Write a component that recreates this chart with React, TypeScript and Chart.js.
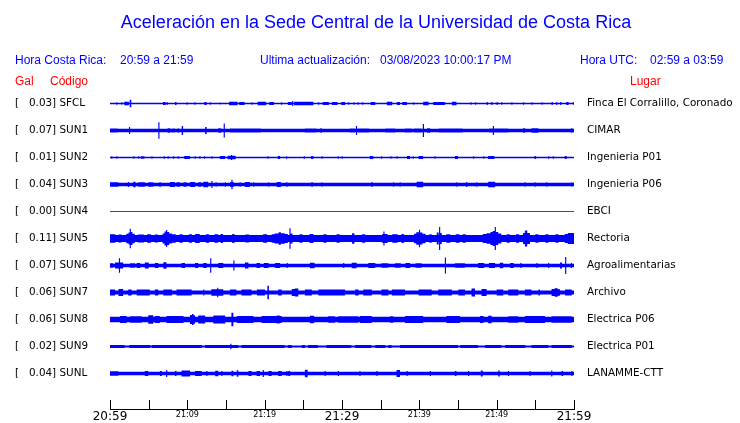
import React, { useEffect, useRef } from 'react';
import { Chart, registerables } from 'chart.js';

Chart.register(...registerables);

// ---------- text ----------
const TITLE = 'Aceleración en la Sede Central de la Universidad de Costa Rica';
const HEADER_LOCAL = ['Hora Costa Rica:', '20:59 a 21:59'];
const HEADER_UPDATE = ['Ultima actualización:', '03/08/2023 10:00:17 PM'];
const HEADER_UTC = ['Hora UTC:', '02:59 a 03:59'];
const COLUMN_HEADS = ['Gal', 'Código', 'Lugar'];

// ---------- data ----------
const CODES = ['SFCL', 'SUN1', 'SUN2', 'SUN3', 'SUN4', 'SUN5', 'SUN6', 'SUN7', 'SUN8', 'SUN9', 'SUNL'];
const GAL = [0.03, 0.07, 0.01, 0.04, 0.0, 0.11, 0.07, 0.06, 0.06, 0.02, 0.04];
const PLACES = [
  'Finca El Corralillo, Coronado', 'CIMAR', 'Ingenieria P01', 'Ingenieria P06', 'EBCI', 'Rectoria',
  'Agroalimentarias', 'Archivo', 'Electrica P06', 'Electrica P01', 'LANAMME-CTT',
];
// minutes after 20:59 (0..60), labels every 10 min, tick marks every 5 min
const TICK_MINUTES = [0, 5, 10, 15, 20, 25, 30, 35, 40, 45, 50, 55, 60];
const TIME_LABELS = ['20:59', '21:09', '21:19', '21:29', '21:39', '21:49', '21:59'];

// background (noise) half-amplitude of each trace
const BASE_AMP = [0.8, 1.7, 0.8, 1.7, 0.5, 3.4, 1.7, 2.0, 2.7, 1.0, 1.8];

// events: [start minute, end minute, half-amplitude]
const EVENTS_SFCL = [
  [0.8, 0.95, 1.3], [1.45, 1.6, 1.3], [1.85, 2.45, 1.8], [2.55, 2.75, 3.8], [6.85, 7.2, 1.5], [7.3, 7.5, 1.2],
  [8.4, 8.6, 1.5], [9.9, 10.05, 1.3], [10.9, 11.05, 1.3], [12.2, 12.5, 1.5], [12.9, 13.05, 1.2], [14.2, 14.35, 1.0],
  [15.4, 16.5, 1.7], [16.7, 17.4, 1.6], [18.3, 18.45, 1.2], [19.1, 20.2, 1.7], [20.6, 21.2, 1.6], [22.1, 22.25, 1.2],
  [23.0, 23.5, 1.6], [23.55, 23.7, 2.6], [23.8, 26.3, 1.7], [26.9, 27.05, 1.2], [27.5, 28.3, 1.6], [28.7, 29.4, 1.6],
  [29.9, 30.4, 1.5], [30.8, 30.95, 1.3], [31.5, 31.65, 1.3], [32.0, 32.15, 1.3], [32.6, 32.75, 1.3], [33.7, 34.3, 1.5],
  [35.8, 36.5, 1.7], [37.1, 37.5, 1.5], [37.8, 38.4, 1.6], [39.2, 39.35, 1.3], [40.5, 41.2, 1.7], [41.8, 43.3, 1.6],
  [44.2, 44.8, 1.7], [46.6, 46.75, 1.2], [47.2, 47.35, 1.2], [48.7, 48.85, 1.4], [49.3, 49.45, 1.4], [50.0, 50.15, 1.4],
  [50.6, 50.75, 1.2], [51.9, 52.05, 1.2], [53.4, 53.55, 1.3], [54.5, 54.65, 1.2], [55.8, 55.95, 1.2], [57.1, 57.25, 1.4],
  [57.7, 57.85, 1.4], [58.2, 58.35, 1.4], [59.0, 59.3, 1.6], [59.85, 60, 1.3],
];
const EVENTS_SUN1 = [
  [0, 1.0, 2.0], [2.45, 2.6, 3.5], [6.25, 6.4, 8.3], [7.45, 7.8, 2.3], [8.0, 8.4, 2.0], [8.75, 8.9, 2.3],
  [9.27, 9.45, 4.4], [12.3, 12.5, 3.4], [14.0, 14.4, 2.2], [14.7, 14.85, 7.0], [15.5, 19.5, 1.9], [25.2, 26.7, 2.0],
  [27.2, 27.4, 2.2], [31.0, 31.7, 2.0], [31.8, 31.95, 4.5], [32.0, 33.5, 2.0], [35.6, 36.9, 2.0], [38.1, 39.0, 2.0],
  [39.3, 40.3, 2.0], [40.45, 40.6, 6.5], [41.0, 41.4, 2.3], [42.5, 45.6, 2.0], [49.0, 51.5, 2.1], [49.5, 49.65, 4.5],
  [53.4, 53.7, 2.3], [54.5, 55.4, 2.3], [59.6, 59.8, 2.2],
];
const EVENTS_SUN2 = [
  [0.15, 0.3, 1.3], [0.8, 0.95, 1.3], [3.0, 3.15, 1.2], [3.65, 3.8, 1.2], [4.0, 4.45, 1.3], [5.35, 5.5, 1.2],
  [6.95, 7.1, 1.3], [7.45, 7.6, 1.3], [8.15, 8.3, 1.3], [8.75, 8.9, 1.3], [9.6, 10.35, 1.5], [10.95, 11.1, 1.3],
  [11.55, 11.7, 1.3], [12.15, 12.3, 1.2], [13.1, 13.25, 1.3], [14.2, 14.9, 1.4], [15.2, 16.25, 1.7], [15.65, 15.8, 2.4],
  [20.35, 20.5, 1.3], [21.7, 22.0, 1.6], [22.75, 22.9, 1.2], [25.05, 25.2, 1.3], [26.0, 26.3, 1.6], [27.35, 27.5, 1.2],
  [29.45, 29.6, 1.2], [29.95, 30.1, 1.2], [33.6, 34.05, 1.4], [35.05, 35.2, 1.2], [36.25, 36.4, 1.3], [37.05, 37.2, 1.2],
  [38.4, 38.8, 1.5], [39.15, 39.3, 1.3], [39.9, 40.5, 1.5], [41.95, 42.1, 1.2], [44.6, 45.0, 1.6], [46.95, 47.1, 1.2],
  [48.25, 48.4, 1.3], [48.9, 49.7, 1.5], [54.9, 55.1, 1.6], [56.65, 56.8, 1.2], [57.25, 57.4, 1.2], [58.8, 59.05, 1.5],
];
const EVENTS_SUN3 = [
  [0, 1.1, 2.3], [2.3, 2.45, 2.5], [3.0, 3.3, 2.8], [3.65, 4.5, 2.3], [4.95, 5.6, 2.3], [6.4, 6.55, 2.5],
  [7.75, 8.4, 2.6], [8.6, 9.05, 2.3], [9.5, 9.9, 2.3], [10.35, 11.0, 2.5], [11.4, 11.85, 2.3], [12.05, 12.7, 2.8],
  [13.1, 13.25, 3.4], [13.65, 13.8, 2.3], [14.85, 15.0, 2.3], [15.55, 16.0, 2.5], [15.7, 15.85, 4.8], [16.75, 16.9, 2.3],
  [17.45, 18.1, 2.5], [18.5, 18.65, 2.3], [20.45, 20.6, 2.3], [21.55, 22.1, 2.6], [22.8, 22.95, 2.3], [26.05, 26.2, 2.5],
  [27.35, 27.5, 2.3], [33.8, 33.95, 2.5], [36.6, 36.75, 2.3], [37.45, 37.6, 2.3], [39.65, 40.5, 2.7], [44.75, 44.9, 2.3],
  [46.05, 46.2, 2.5], [47.35, 47.5, 2.3], [48.9, 49.8, 2.7], [53.6, 53.75, 2.3], [54.9, 55.05, 2.3], [56.4, 56.55, 2.3],
  [59.65, 59.8, 2.3],
];
const EVENTS_SUN4: number[][] = [];
const EVENTS_SUN5 = [
  [0, 0.7, 4.3], [1.1, 1.5, 4.0], [2.1, 2.4, 4.8], [2.4, 2.55, 6.0], [2.55, 2.7, 9.8], [2.7, 2.9, 6.5],
  [2.9, 3.2, 4.8], [3.6, 4.4, 4.0], [4.8, 5.3, 4.3], [5.8, 6.2, 4.0], [6.8, 7.05, 5.0], [7.05, 7.25, 7.0],
  [7.25, 7.4, 8.6], [7.4, 7.65, 6.5], [7.65, 8.0, 5.0], [8.0, 8.5, 4.3], [9.0, 9.4, 4.3], [10.2, 10.6, 4.3],
  [11.0, 11.6, 4.5], [12.4, 12.8, 4.2], [13.5, 14.0, 4.3], [14.3, 14.6, 4.5], [15.8, 16.1, 4.5], [17.5, 18.0, 4.0],
  [19.8, 20.3, 4.2], [20.9, 21.3, 4.3], [21.3, 21.8, 5.0], [21.8, 22.1, 6.3], [22.1, 22.6, 5.2], [22.6, 23.0, 4.5],
  [23.2, 23.35, 10.2], [23.35, 23.6, 5.0], [24.5, 24.9, 4.2], [25.8, 26.3, 4.5], [27.6, 28.0, 4.3], [29.3, 29.7, 4.3],
  [31.3, 31.6, 5.2], [32.6, 33.0, 4.3], [35.2, 35.9, 4.5], [35.35, 35.5, 7.0], [36.5, 37.2, 4.3], [37.7, 38.0, 4.5],
  [39.3, 39.6, 4.8], [39.6, 39.95, 6.3], [39.95, 40.1, 8.7], [40.1, 40.4, 6.0], [40.4, 40.8, 4.8], [41.3, 41.6, 4.3],
  [42.25, 42.5, 6.0], [42.55, 42.7, 11.6], [42.7, 42.9, 5.5], [43.5, 44.0, 4.3], [44.7, 45.2, 4.3], [45.6, 46.0, 4.3],
  [48.2, 48.7, 4.5], [48.7, 49.2, 5.3], [49.2, 49.5, 6.5], [49.5, 49.75, 7.5], [49.75, 49.9, 11.5], [49.9, 50.2, 6.5],
  [50.2, 50.6, 5.0], [51.3, 51.7, 4.3], [52.5, 52.9, 4.3], [53.4, 53.65, 5.5], [53.65, 53.95, 8.0], [53.95, 54.3, 5.5],
  [55.0, 55.4, 4.3], [56.3, 56.7, 4.3], [57.6, 58.0, 4.3], [58.8, 59.2, 4.5], [59.2, 60, 5.5],
];
const EVENTS_SUN6 = [
  [0, 0.45, 2.3], [0.65, 1.7, 3.0], [1.15, 1.3, 7.3], [2.6, 3.25, 2.3], [3.45, 3.9, 2.5], [4.5, 5.0, 3.0],
  [5.8, 6.25, 2.5], [6.9, 7.3, 3.3], [9.25, 9.7, 2.5], [11.0, 11.4, 2.5], [12.05, 12.5, 2.5], [12.95, 13.1, 7.2],
  [14.0, 14.65, 2.6], [15.95, 16.1, 5.0], [17.45, 17.9, 3.0], [18.95, 19.4, 2.4], [19.9, 20.5, 2.4], [21.35, 22.0, 2.4],
  [22.85, 23.0, 2.5], [25.85, 26.45, 2.7], [30.15, 30.3, 2.5], [31.25, 31.9, 2.7], [33.4, 34.3, 2.4], [35.1, 36.0, 2.2],
  [36.85, 37.6, 2.3], [38.2, 38.8, 2.4], [39.5, 40.3, 2.3], [43.3, 43.45, 8.0], [44.6, 45.9, 2.3], [47.6, 48.4, 2.5],
  [49.0, 49.8, 2.6], [50.4, 50.85, 2.7], [51.75, 52.2, 2.5], [53.05, 53.2, 2.5], [55.15, 55.3, 2.5], [56.65, 56.8, 2.5],
  [58.2, 58.45, 3.0], [58.85, 59.0, 8.5], [59.6, 59.75, 2.5],
];
const EVENTS_SUN7 = [
  [0, 0.65, 3.0], [1.1, 1.7, 3.5], [2.35, 2.8, 3.0], [3.45, 5.15, 3.0], [5.8, 6.25, 3.0], [6.9, 8.0, 3.0],
  [8.6, 10.55, 3.0], [12.05, 12.2, 3.0], [13.1, 14.65, 3.3], [13.85, 14.0, 4.7], [15.5, 16.35, 3.0], [17.0, 18.3, 3.0],
  [19.0, 20.05, 3.0], [20.35, 20.55, 6.7], [21.75, 22.2, 3.0], [23.5, 23.9, 3.6], [23.9, 24.35, 4.0], [25.2, 26.1, 3.0],
  [26.95, 30.4, 3.0], [31.7, 32.15, 3.0], [32.75, 33.85, 3.0], [35.1, 36.0, 3.0], [36.45, 38.15, 3.0], [39.9, 41.6, 3.0],
  [42.45, 44.2, 3.0], [45.05, 45.9, 3.0], [46.75, 47.2, 4.0], [48.05, 48.7, 3.5], [50.0, 50.85, 3.0], [51.5, 52.8, 3.0],
  [53.65, 54.5, 3.0], [55.4, 55.6, 3.0], [57.1, 57.5, 3.5], [57.5, 57.9, 4.3], [57.9, 58.2, 3.3], [58.85, 59.7, 3.0],
];
const EVENTS_SUN8 = [
  [1.3, 2.15, 3.5], [2.6, 4.1, 3.3], [4.95, 5.6, 4.3], [5.8, 6.45, 3.5], [7.3, 9.5, 3.4], [10.35, 10.6, 4.5],
  [10.6, 10.8, 5.5], [10.8, 11.0, 4.3], [11.4, 12.3, 4.0], [13.35, 14.9, 4.0], [15.7, 15.95, 6.7], [16.4, 18.55, 3.4],
  [19.6, 22.2, 3.4], [21.55, 21.95, 4.0], [25.85, 26.4, 3.7], [28.2, 29.1, 3.3], [29.5, 32.1, 3.3], [32.3, 33.85, 3.6],
  [36.2, 36.65, 3.3], [38.15, 40.5, 3.6], [43.5, 45.25, 3.4], [47.85, 48.3, 3.5], [48.9, 49.35, 3.7], [51.5, 52.8, 3.3],
  [53.65, 56.25, 3.4], [57.1, 59.7, 3.3],
];
const EVENTS_SUN9 = [
  [0, 1.9, 1.5], [2.5, 5.2, 1.5], [5.4, 11.9, 1.5], [12.3, 16.6, 1.5], [15.55, 15.7, 2.7], [17.0, 22.6, 1.5],
  [23.0, 23.5, 1.5], [24.8, 25.2, 1.5], [25.6, 26.9, 1.5], [28.0, 31.2, 1.5], [31.7, 33.8, 1.5], [34.3, 35.6, 1.5],
  [36.0, 36.4, 1.5], [37.5, 45.0, 1.5], [45.3, 47.6, 1.5], [48.5, 50.6, 1.5], [51.1, 53.7, 1.5], [54.5, 56.7, 1.5],
  [57.1, 59.7, 1.5],
];
const EVENTS_SUNL = [
  [0, 1.1, 2.3], [4.5, 4.95, 2.5], [6.45, 6.7, 2.5], [7.25, 7.4, 3.4], [8.4, 8.6, 2.5], [9.25, 10.35, 3.0],
  [11.0, 11.85, 2.5], [12.45, 12.6, 2.5], [13.6, 14.0, 2.8], [14.4, 14.55, 2.5], [15.7, 15.95, 2.8], [16.4, 16.6, 3.3],
  [17.9, 18.3, 2.5], [18.95, 19.4, 2.5], [19.75, 19.9, 3.6], [20.5, 20.9, 2.5], [21.75, 22.2, 2.5], [22.8, 22.95, 2.5],
  [23.05, 23.3, 2.5], [25.2, 25.55, 3.8], [27.75, 27.9, 2.5], [29.45, 29.6, 2.5], [32.25, 32.4, 2.5], [34.45, 34.6, 2.5],
  [37.05, 37.5, 3.4], [38.35, 38.5, 2.5], [41.35, 41.5, 2.5], [44.6, 44.8, 2.6], [46.3, 46.45, 2.5], [47.95, 48.2, 3.0],
  [50.2, 50.4, 3.0], [51.45, 51.6, 2.5], [54.25, 54.4, 2.5], [57.05, 57.2, 3.0], [58.4, 58.6, 2.6], [59.65, 59.8, 2.5],
];
const TRACE_EVENTS = [
  EVENTS_SFCL, EVENTS_SUN1, EVENTS_SUN2, EVENTS_SUN3, EVENTS_SUN4, EVENTS_SUN5,
  EVENTS_SUN6, EVENTS_SUN7, EVENTS_SUN8, EVENTS_SUN9, EVENTS_SUNL,
];

// ---------- styles ----------
const BLUE = '#0000ff';
const RED = '#ff0000';
const TRACE_COLORS = [BLUE, BLUE, BLUE, BLUE, RED, BLUE, BLUE, BLUE, BLUE, BLUE, BLUE];
const HEAD_FONT = '"Liberation Sans", Arial, sans-serif';
const LABEL_FONT = '"DejaVu Sans", sans-serif';

const ROW_PX = 27;
const AREA_TOP = 76.5;
const AREA_BOTTOM = 409;
const Y_MIN = -1;
const Y_MAX = Y_MIN + (AREA_BOTTOM - AREA_TOP) / ROW_PX;
const SPAN = 60;

function envelope(base: number, events: number[][]) {
  const cuts = new Set<number>([0, SPAN]);
  events.forEach(([s, e]) => {
    cuts.add(Math.max(0, s));
    cuts.add(Math.min(SPAN, e));
  });
  const xs = Array.from(cuts).sort((a, b) => a - b);
  const pts: { x: number; a: number }[] = [];
  for (let k = 0; k < xs.length - 1; k++) {
    const mid = (xs[k] + xs[k + 1]) / 2;
    let a = base;
    for (const [s, e, amp] of events) if (s <= mid && mid < e) a = Math.max(a, amp);
    pts.push({ x: xs[k], a });
  }
  pts.push({ x: SPAN, a: pts[pts.length - 1].a });
  return pts;
}

const headerPlugin = {
  id: 'header',
  afterDraw(chart: any) {
    const ctx = chart.ctx;
    ctx.save();
    ctx.textBaseline = 'alphabetic';
    ctx.fillStyle = BLUE;
    ctx.textAlign = 'center';
    ctx.font = `18px ${HEAD_FONT}`;
    ctx.fillText(TITLE, 376, 28);
    ctx.textAlign = 'left';
    ctx.font = `12px ${HEAD_FONT}`;
    ctx.fillText(HEADER_LOCAL[0], 15, 64);
    ctx.fillText(HEADER_LOCAL[1], 120, 64);
    ctx.fillText(HEADER_UPDATE[0], 260, 64);
    ctx.fillText(HEADER_UPDATE[1], 380, 64);
    ctx.fillText(HEADER_UTC[0], 580, 64);
    ctx.fillText(HEADER_UTC[1], 650, 64);
    ctx.fillStyle = RED;
    ctx.fillText(COLUMN_HEADS[0], 15, 85);
    ctx.fillText(COLUMN_HEADS[1], 50, 85);
    ctx.fillText(COLUMN_HEADS[2], 630, 85);

    // upward tick marks on the time axis
    const xs = chart.scales.x;
    const bottom = chart.chartArea.bottom;
    ctx.strokeStyle = '#000';
    ctx.lineWidth = 1;
    ctx.beginPath();
    xs.ticks.forEach((t: any) => {
      const px = Math.round(xs.getPixelForValue(t.value)) + 0.5;
      ctx.moveTo(px, bottom - 9);
      ctx.lineTo(px, bottom);
    });
    ctx.stroke();
    ctx.restore();
  },
};

export default function App() {
  const ref = useRef<HTMLCanvasElement>(null);
  useEffect(() => {
    if (!ref.current) return;
    const datasets: any[] = [];
    CODES.forEach((code, i) => {
      const env = envelope(BASE_AMP[i], TRACE_EVENTS[i]);
      const common = {
        type: 'line',
        borderWidth: 0,
        borderColor: 'transparent',
        backgroundColor: TRACE_COLORS[i],
        pointRadius: 0,
        stepped: true,
        tension: 0,
      };
      datasets.push({ ...common, label: code + ' a', data: env.map((p) => ({ x: p.x, y: i - p.a / ROW_PX })), fill: false });
      datasets.push({ ...common, label: code + ' b', data: env.map((p) => ({ x: p.x, y: i + p.a / ROW_PX })), fill: '-1' });
    });

    const noPad = (s: any) => {
      s.paddingTop = 0;
      s.paddingBottom = 0;
    };

    const chart = new Chart(ref.current, {
      type: 'line',
      data: { datasets },
      plugins: [headerPlugin],
      options: {
        responsive: false,
        animation: false,
        events: [],
        layout: { padding: { top: AREA_TOP, left: 15, right: 0, bottom: 0 } },
        plugins: { legend: { display: false }, tooltip: { enabled: false }, title: { display: false } },
        scales: {
          x: {
            type: 'linear',
            position: 'bottom',
            min: 0,
            max: SPAN,
            afterBuildTicks: (s: any) => {
              s.ticks = TICK_MINUTES.map((v) => ({ value: v }));
            },
            afterFit: (s: any) => {
              s.height = 423 - AREA_BOTTOM;
              s.paddingLeft = 0;
              s.paddingRight = 0;
            },
            grid: { display: false, drawTicks: false },
            border: { display: true, color: '#000', width: 1 },
            ticks: {
              autoSkip: false,
              maxRotation: 0,
              padding: 1,
              color: '#000',
              font: (c: any) => ({ family: LABEL_FONT, size: c.tick && c.tick.value % 30 === 0 ? 12 : 8 }),
              callback: (v: any) => (Number(v) % 10 === 0 ? TIME_LABELS[Number(v) / 10] : ''),
            },
          },
          y: {
            type: 'linear',
            position: 'left',
            reverse: true,
            min: Y_MIN,
            max: Y_MAX,
            afterBuildTicks: (s: any) => {
              s.ticks = CODES.map((_, i) => ({ value: i }));
            },
            afterFit: (s: any) => {
              s.width = 95;
              noPad(s);
            },
            grid: { display: false, drawTicks: false },
            border: { display: false },
            ticks: {
              crossAlign: 'far',
              padding: 0,
              color: '#000',
              font: { family: LABEL_FONT, size: 10.4 },
              callback: (v: any) => `[   ${GAL[Number(v)].toFixed(2)}] ${CODES[Number(v)]}`,
            },
          },
          y2: {
            type: 'linear',
            position: 'right',
            reverse: true,
            min: Y_MIN,
            max: Y_MAX,
            afterBuildTicks: (s: any) => {
              s.ticks = PLACES.map((_, i) => ({ value: i }));
            },
            afterFit: (s: any) => {
              s.width = 166;
              noPad(s);
            },
            grid: { display: false, drawTicks: false },
            border: { display: false },
            ticks: {
              crossAlign: 'near',
              padding: 13,
              color: '#000',
              font: { family: LABEL_FONT, size: 10.4 },
              callback: (v: any) => PLACES[Number(v)],
            },
          },
        },
      } as any,
    });
    return () => chart.destroy();
  }, []);

  return (
    <div style={{ position: 'absolute', left: 0, top: 0, width: 740, height: 423, background: '#fff' }}>
      <canvas ref={ref} width={740} height={423} style={{ display: 'block' }} />
    </div>
  );
}
